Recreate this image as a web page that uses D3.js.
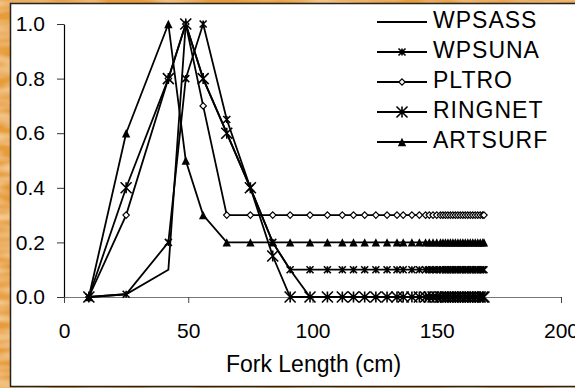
<!DOCTYPE html>
<html><head><meta charset="utf-8">
<script src="https://cdn.jsdelivr.net/npm/d3@7/dist/d3.min.js"></script>
<style>html,body{margin:0;padding:0;background:#e9a440;}svg{display:block;}</style>
</head><body>
<script>
// ---- data ----
const forkLength = [10, 25, 42, 49, 56, 65.5, 75, 84, 91, 99, 106, 112, 116.5, 121, 125.5, 130, 134, 136.5, 140, 143, 145.5, 147, 148.5, 150, 151.5, 152.5, 153.5, 154.5, 155.5, 156.5, 157.5, 158.5, 159.5, 160.5, 161.5, 162.5, 163.5, 164.5, 165.5, 166.5, 167.5, 168.5, 169];
const WPSASS  = [0, 0.01, 0.1, 1.0, 0.8, 0.6, 0.4, 0.2, 0.1, 0, 0, 0, 0, 0, 0, 0, 0, 0, 0, 0, 0, 0, 0, 0, 0, 0, 0, 0, 0, 0, 0, 0, 0, 0, 0, 0, 0, 0, 0, 0, 0, 0, 0];
const WPSUNA  = [0, 0.01, 0.2, 0.8, 1.0, 0.65, 0.4, 0.2, 0.1, 0.1, 0.1, 0.1, 0.1, 0.1, 0.1, 0.1, 0.1, 0.1, 0.1, 0.1, 0.1, 0.1, 0.1, 0.1, 0.1, 0.1, 0.1, 0.1, 0.1, 0.1, 0.1, 0.1, 0.1, 0.1, 0.1, 0.1, 0.1, 0.1, 0.1, 0.1, 0.1, 0.1, 0.1];
const PLTRO   = [0, 0.3, 0.8, 1.0, 0.7, 0.3, 0.3, 0.3, 0.3, 0.3, 0.3, 0.3, 0.3, 0.3, 0.3, 0.3, 0.3, 0.3, 0.3, 0.3, 0.3, 0.3, 0.3, 0.3, 0.3, 0.3, 0.3, 0.3, 0.3, 0.3, 0.3, 0.3, 0.3, 0.3, 0.3, 0.3, 0.3, 0.3, 0.3, 0.3, 0.3, 0.3, 0.3];
const RINGNET = [0, 0.4, 0.8, 1.0, 0.8, 0.6, 0.4, 0.15, 0, 0, 0, 0, 0, 0, 0, 0, 0, 0, 0, 0, 0, 0, 0, 0, 0, 0, 0, 0, 0, 0, 0, 0, 0, 0, 0, 0, 0, 0, 0, 0, 0, 0, 0];
const ARTSURF = [0, 0.6, 1.0, 0.5, 0.3, 0.2, 0.2, 0.2, 0.2, 0.2, 0.2, 0.2, 0.2, 0.2, 0.2, 0.2, 0.2, 0.2, 0.2, 0.2, 0.2, 0.2, 0.2, 0.2, 0.2, 0.2, 0.2, 0.2, 0.2, 0.2, 0.2, 0.2, 0.2, 0.2, 0.2, 0.2, 0.2, 0.2, 0.2, 0.2, 0.2, 0.2, 0.2];
const seriesNames = ["WPSASS", "WPSUNA", "PLTRO", "RINGNET", "ARTSURF"];
const seriesValues = [WPSASS, WPSUNA, PLTRO, RINGNET, ARTSURF];
const markerTypes = ["none", "smallstar", "diamond", "bigstar", "triangle"];
const xTicks = [0, 50, 100, 150, 200];
const yTicks = [0, 0.2, 0.4, 0.6, 0.8, 1.0];
const xTitle = "Fork Length (cm)";

// ---- layout ----
const W = 575, H = 388;
const svg = d3.select("body").append("svg").attr("width", W).attr("height", H);
const font = "Arial, 'Liberation Sans', sans-serif";

// textured orange background
const defs = svg.append("defs");
const filt = defs.append("filter").attr("id","tex").attr("x",0).attr("y",0).attr("width","100%").attr("height","100%");
filt.append("feTurbulence").attr("type","fractalNoise").attr("baseFrequency","0.02 0.09").attr("numOctaves",2).attr("seed",3).attr("result","n");
filt.append("feColorMatrix").attr("in","n").attr("type","matrix")
  .attr("values","0 0 0 0 0.97  0 0 0 0 0.74  0 0 0 0 0.40  0 0 0 -1.6 1.05").attr("result","c");
filt.append("feComposite").attr("in","c").attr("in2","SourceGraphic").attr("operator","over");
svg.append("rect").attr("width",W).attr("height",H).attr("fill","#e69c38").attr("filter","url(#tex)");

// white chart box
svg.append("rect").attr("x",10.5).attr("y",3.5).attr("width",W+5).attr("height",383)
  .attr("fill","#fff").attr("stroke","#222").attr("stroke-width",1.5);

const x = d3.scaleLinear().domain([0,200]).range([64,561]);
const y = d3.scaleLinear().domain([0,1]).range([297,24]);

// y axis
const gy = svg.append("g").attr("transform","translate(64,0)")
  .call(d3.axisLeft(y).tickValues(yTicks).tickFormat(d3.format(".1f")).tickSize(7).tickSizeOuter(0).tickPadding(12));
gy.select(".domain").attr("stroke","#000").attr("stroke-width",1.2);
gy.selectAll(".tick line").attr("stroke","#333");
gy.selectAll("text").attr("font-family",font).attr("font-size",21).attr("fill","#000");

// x axis
const gx = svg.append("g").attr("transform","translate(0,297)")
  .call(d3.axisBottom(x).tickValues(xTicks).tickFormat(d3.format("d")).tickSize(6).tickSizeOuter(0).tickPadding(20));
gx.select(".domain").attr("stroke","#777").attr("stroke-width",1.2);
gx.selectAll(".tick line").attr("stroke","#444");
gx.selectAll("text").attr("font-family",font).attr("font-size",21).attr("fill","#000");

svg.append("text").attr("x",(x(0)+x(200))/2+1).attr("y",372).attr("text-anchor","middle")
  .attr("font-family",font).attr("font-size",23).attr("fill","#000").text(xTitle);

// markers
function drawMarker(g, type, cx, cy){
  if(type==="none") return;
  if(type==="smallstar"||type==="bigstar"){
    const r = type==="smallstar"?3.5:5.5;
    g.append("path").attr("d",`M${cx-r},${cy-r}L${cx+r},${cy+r}M${cx-r},${cy+r}L${cx+r},${cy-r}M${cx},${cy-r}L${cx},${cy+r}`)
      .attr("stroke","#000").attr("stroke-width",1.6).attr("fill","none");
  } else if(type==="diamond"){
    const r=3.2;
    g.append("path").attr("d",`M${cx},${cy-r}L${cx+r},${cy}L${cx},${cy+r}L${cx-r},${cy}Z`)
      .attr("stroke","#000").attr("stroke-width",1.2).attr("fill","#fff");
  } else if(type==="triangle"){
    const r=4.2;
    g.append("path").attr("d",`M${cx},${cy-r}L${cx+r},${cy+r}L${cx-r},${cy+r}Z`).attr("fill","#000");
  }
}

const line = d3.line().x(d=>x(d[0])).y(d=>y(d[1]));
seriesValues.forEach((vals,i)=>{
  const pts = forkLength.map((fl,j)=>[fl, vals[j]]);
  const g = svg.append("g");
  g.append("path").datum(pts).attr("d",line).attr("fill","none").attr("stroke","#000").attr("stroke-width",1.8);
  pts.forEach(p=>drawMarker(g, markerTypes[i], x(p[0]), y(p[1])));
});

// legend
const lg = svg.append("g");
seriesNames.forEach((name,i)=>{
  const ly = 22 + i*30;
  lg.append("line").attr("x1",377).attr("x2",427).attr("y1",ly).attr("y2",ly).attr("stroke","#000").attr("stroke-width",1.8);
  drawMarker(lg, markerTypes[i], 402, ly);
  lg.append("text").attr("x",433).attr("y",ly+5.5).attr("font-family",font).attr("font-size",23)
    .attr("letter-spacing",1).attr("fill","#000").text(name);
});
</script>
</body></html>
